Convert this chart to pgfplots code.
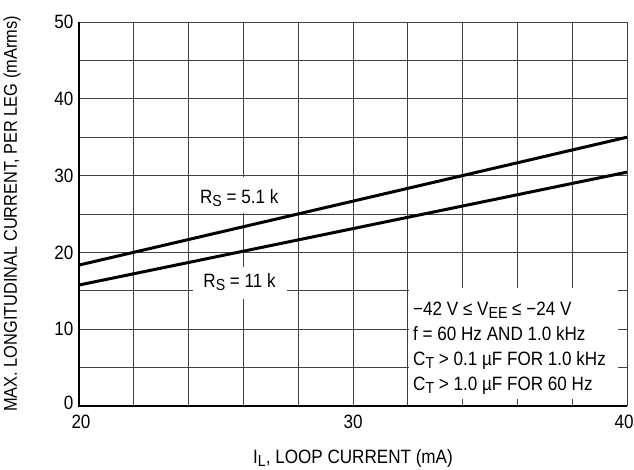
\documentclass[border=0pt]{standalone}
\usepackage{fontspec}
\setmainfont{Liberation Sans}[FakeStretch=0.885]
\usepackage{pgfplots}
\pgfplotsset{compat=1.18}
\newcommand\sub[1]{\raisebox{-0.3ex}{\fontsize{16}{16}\selectfont #1}}
\begin{document}
\begin{tikzpicture}[font=\fontsize{19.3}{25}\selectfont]
\useasboundingbox (0,0) rectangle (634pt,469pt);
\begin{axis}[
 at={(79pt,63pt)}, anchor=south west,
 scale only axis, width=548pt, height=384pt,
 xmin=20, xmax=40, ymin=0, ymax=50,
 xtick={20,30,40}, minor xtick={22,24,26,28,32,34,36,38},
 xticklabels={{\hspace*{4pt}20},{30},{40\hspace*{6pt}}},
 ytick={0,10,...,50}, minor ytick={5,15,25,35,45},
 yticklabels={{\raisebox{-3pt}[0pt][0pt]{0}},10,20,30,40,50},
 grid=both,
 major grid style={draw=black!75, line width=1pt},
 minor grid style={draw=black!75, line width=1pt},
 axis line style={draw=none},
 tick align=inside,
 xtick pos=left, ytick pos=left,
 major tick length=6pt, minor tick length=6pt,
 tick style={draw=black!75, line width=1pt},
 /pgf/number format/assume math mode=true,
 tick label style={font=\fontsize{19.3}{20}\selectfont},
 xticklabel style={yshift=-5pt},
 yticklabel style={xshift=-2pt},
 xlabel={I\sub{L}, LOOP CURRENT (mA)},
 ylabel={MAX. LONGITUDINAL CURRENT, PER LEG (mArms)},
 every axis x label/.style={at={(axis description cs:0.5,-0.1367)}, anchor=center},
 every axis y label/.style={at={(axis description cs:-0.1223,0.5)}, rotate=90, anchor=center, font=\fontsize{18.5}{20}\selectfont},
 clip=false,
]
\fill[white] (axis cs:24.1,25.15) rectangle (axis cs:27.95,29.85);
\fill[white] (axis cs:24.16,13.9) rectangle (axis cs:27.59,18.1);
\fill[white] (axis cs:32.05,0.85) rectangle (axis cs:39.67,15.36);
\node[anchor=base, inner sep=0pt, font=\fontsize{19.3}{25}\selectfont] at (axis cs:25.85,26.4) {R\sub{S} = 5.1 k};
\node[anchor=base, inner sep=0pt, font=\fontsize{19.3}{25}\selectfont] at (axis cs:25.86,15.4) {R\sub{S} = 11 k};
\node[anchor=west, align=left, inner sep=0pt, font=\fontsize{19.3}{25}\selectfont] at (axis cs:32.19,7.55)
 {−42 V ≤ V\sub{EE} ≤ −24 V\\ f = 60 Hz AND 1.0 kHz\\ C\sub{T} > 0.1 µF FOR 1.0 kHz\\ C\sub{T} > 1.0 µF FOR 60 Hz};
\addplot[black, line width=3pt] coordinates {(20,18.35) (40,35.0)};
\addplot[black, line width=3pt] coordinates {(20,15.75) (40,30.45)};
\draw[black, line width=2.5pt] (axis cs:20,50) -- (axis cs:20,0) -- (axis cs:40,0);
\end{axis}
\end{tikzpicture}
\end{document}
